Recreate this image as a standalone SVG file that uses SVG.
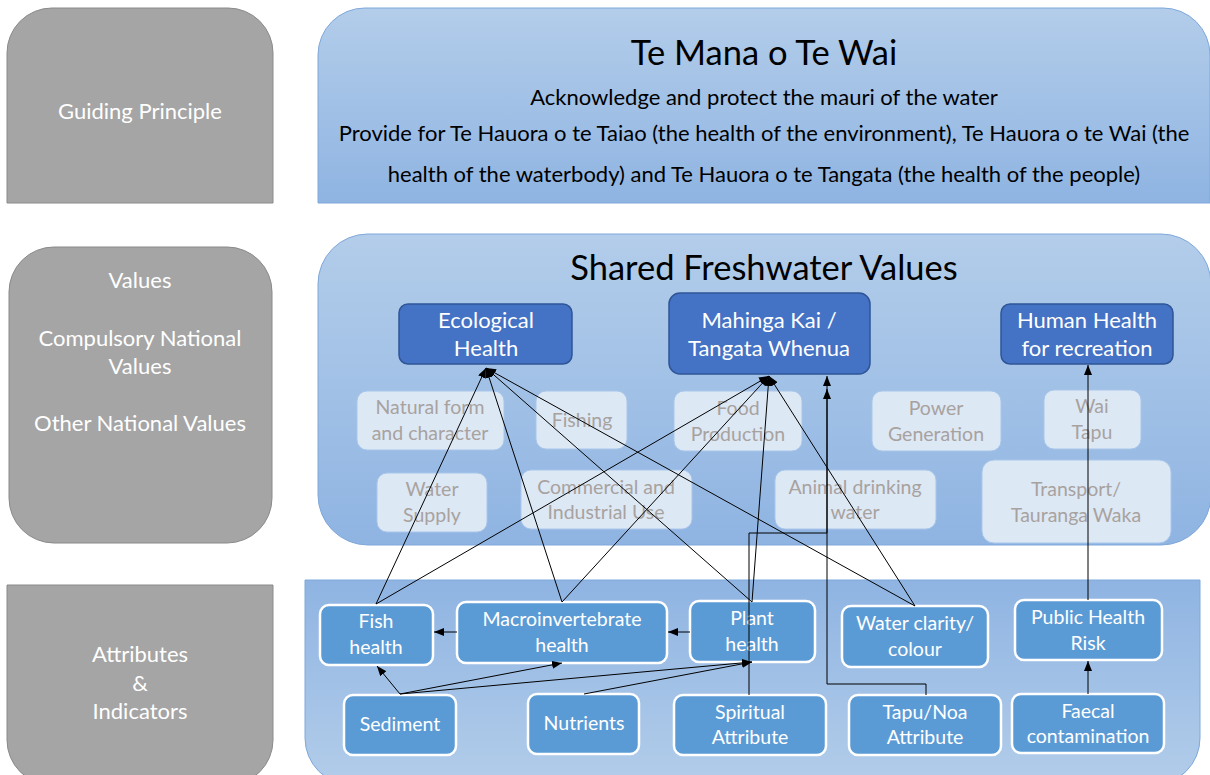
<svg xmlns="http://www.w3.org/2000/svg" width="1210" height="775" viewBox="0 0 1210 775">
<defs>
<linearGradient id="gDown" x1="0" y1="0" x2="0" y2="1">
<stop offset="0" stop-color="#b3cdea"/><stop offset="1" stop-color="#8fb4e2"/>
</linearGradient>
<linearGradient id="gUp" x1="0" y1="0" x2="0" y2="1">
<stop offset="0" stop-color="#8fb4e2"/><stop offset="1" stop-color="#b3cdea"/>
</linearGradient>
<marker id="arr" viewBox="0 0 10 8" refX="10" refY="4" markerWidth="10" markerHeight="8" markerUnits="userSpaceOnUse" orient="auto">
<path d="M0,0 L10,4 L0,8 z" fill="#000"/>
</marker>
<style>
.gray{fill:#a5a5a5;stroke:#8a8a8a;stroke-width:1}
.panel{stroke:#7fa8da;stroke-width:1}
.lbl{font-family:Lato,"Open Sans",sans-serif;font-size:22px;fill:#fff;text-anchor:middle}
.ttl{font-family:Lato,"Open Sans",sans-serif;font-size:34.5px;fill:#000;text-anchor:middle}
.body{font-family:Lato,"Open Sans",sans-serif;font-size:22px;fill:#000;text-anchor:middle}
.dark rect{fill:#4472c4;stroke:#2f5597;stroke-width:1.5}
.dark text{font-family:Lato,"Open Sans",sans-serif;font-size:22px;fill:#fff;text-anchor:middle}
.faint rect{fill:#dde8f5;stroke:#a9c6ea;stroke-width:1}
.faint text{font-family:Lato,"Open Sans",sans-serif;font-size:19.5px;fill:#a8a29f;text-anchor:middle}
.att rect{fill:#5b9bd5;stroke:#fff;stroke-width:2.5}
.att text{font-family:Lato,"Open Sans",sans-serif;font-size:19.5px;fill:#fff;text-anchor:middle}
#connectors path{fill:none;stroke:#000;stroke-width:1}
.a{marker-end:url(#arr)}
</style>
</defs>
<rect width="1210" height="775" fill="#fff"/>

<g id="row-guiding">
<path class="gray" d="M7,203 V53 A45,45 0 0 1 52,8 H228 A45,45 0 0 1 273,53 V203 Z"/>
<text class="lbl" x="140" y="119">Guiding Principle</text>
</g>
<g id="row-values">
<rect class="gray" x="9" y="247" width="263" height="296" rx="45"/>
<text class="lbl" x="140" y="288">Values</text>
<text class="lbl" x="140" y="346">Compulsory National</text>
<text class="lbl" x="140" y="374">Values</text>
<text class="lbl" x="140" y="431">Other National Values</text>
</g>
<g id="row-attributes">
<path class="gray" d="M7,585 H273 V740 A45,45 0 0 1 228,785 H52 A45,45 0 0 1 7,740 Z"/>
<text class="lbl" x="140" y="662">Attributes</text>
<text class="lbl" x="140" y="691">&amp;</text>
<text class="lbl" x="140" y="719">Indicators</text>
</g>

<g id="panel-te-mana">
<path class="panel" fill="url(#gDown)" d="M318,203 V55 A47,47 0 0 1 365,8 H1163 A47,47 0 0 1 1210,55 V203 Z"/>
<text class="ttl" x="764" y="65">Te Mana o Te Wai</text>
<text class="body" x="764" y="105">Acknowledge and protect the mauri of the water</text>
<text class="body" x="764" y="141">Provide for Te Hauora o te Taiao (the health of the environment), Te Hauora o te Wai (the</text>
<text class="body" x="764" y="182">health of the waterbody) and Te Hauora o te Tangata (the health of the people)</text>
</g>
<g id="panel-values">
<rect class="panel" fill="url(#gDown)" x="318" y="234" width="893" height="311" rx="50"/>
<text class="ttl" x="764" y="280">Shared Freshwater Values</text>
</g>
<g id="panel-attributes">
<path class="panel" fill="url(#gUp)" d="M305,580 H1200 V738 A47,47 0 0 1 1153,785 H352 A47,47 0 0 1 305,738 Z"/>
</g>

<g id="ecological-health" class="dark">
<rect x="399" y="304" width="173" height="60" rx="9"/>
<text x="486" y="328">Ecological</text><text x="486" y="356">Health</text>
</g>
<g id="mahinga-kai" class="dark">
<rect x="669" y="293" width="201" height="81" rx="11"/>
<text x="769" y="328">Mahinga Kai /</text><text x="769" y="356">Tangata Whenua</text>
</g>
<g id="human-health" class="dark">
<rect x="1001" y="304" width="172" height="60" rx="9"/>
<text x="1087" y="328">Human Health</text><text x="1087" y="356">for recreation</text>
</g>

<g id="natural-form" class="faint"><rect x="357" y="391" width="147" height="59" rx="10"/><text x="430" y="414">Natural form</text><text x="430" y="440">and character</text></g>
<g id="fishing" class="faint"><rect x="536" y="391" width="91" height="58" rx="10"/><text x="582" y="427">Fishing</text></g>
<g id="food-production" class="faint"><rect x="674" y="391" width="128" height="60" rx="10"/><text x="738" y="415">Food</text><text x="738" y="441">Production</text></g>
<g id="power-generation" class="faint"><rect x="872" y="391" width="129" height="60" rx="10"/><text x="936" y="415">Power</text><text x="936" y="441">Generation</text></g>
<g id="wai-tapu" class="faint"><rect x="1044" y="390" width="97" height="59" rx="10"/><text x="1092" y="413">Wai</text><text x="1092" y="439">Tapu</text></g>
<g id="water-supply" class="faint"><rect x="377" y="473" width="110" height="59" rx="10"/><text x="432" y="496">Water</text><text x="432" y="522">Supply</text></g>
<g id="commercial" class="faint"><rect x="521" y="470" width="171" height="59" rx="10"/><text x="606" y="494">Commercial and</text><text x="606" y="519">Industrial Use</text></g>
<g id="animal-drinking" class="faint"><rect x="775" y="470" width="161" height="59" rx="10"/><text x="855" y="494">Animal drinking</text><text x="855" y="519">water</text></g>
<g id="transport" class="faint"><rect x="982" y="460" width="189" height="83" rx="12"/><text x="1076" y="496">Transport/</text><text x="1076" y="522">Tauranga Waka</text></g>

<g id="fish-health" class="att"><rect x="320" y="605" width="113" height="60" rx="9"/><text x="376" y="628">Fish</text><text x="376" y="654">health</text></g>
<g id="macroinvertebrate-health" class="att"><rect x="457" y="602" width="210" height="61" rx="9"/><text x="562" y="626">Macroinvertebrate</text><text x="562" y="652">health</text></g>
<g id="plant-health" class="att"><rect x="690" y="601" width="125" height="61" rx="9"/><text x="752" y="625">Plant</text><text x="752" y="651">health</text></g>
<g id="water-clarity" class="att"><rect x="842" y="606" width="146" height="61" rx="9"/><text x="915" y="630">Water clarity/</text><text x="915" y="656">colour</text></g>
<g id="public-health-risk" class="att"><rect x="1015" y="600" width="147" height="60" rx="9"/><text x="1088" y="624">Public Health</text><text x="1088" y="650">Risk</text></g>
<g id="sediment" class="att"><rect x="344" y="695" width="112" height="60" rx="9"/><text x="400" y="731">Sediment</text></g>
<g id="nutrients" class="att"><rect x="528" y="694" width="111" height="60" rx="9"/><text x="584" y="730">Nutrients</text></g>
<g id="spiritual-attribute" class="att"><rect x="674" y="695" width="152" height="60" rx="9"/><text x="750" y="719">Spiritual</text><text x="750" y="744">Attribute</text></g>
<g id="tapu-noa-attribute" class="att"><rect x="849" y="695" width="152" height="60" rx="9"/><text x="925" y="719">Tapu/Noa</text><text x="925" y="744">Attribute</text></g>
<g id="faecal-contamination" class="att"><rect x="1012" y="694" width="152" height="59" rx="9"/><text x="1088" y="718">Faecal</text><text x="1088" y="743">contamination</text></g>

<g id="connectors">
<path class="a" d="M376,604 L486,368"/>
<path class="a" d="M562,602 L486,368"/>
<path class="a" d="M752,602 L486,368"/>
<path class="a" d="M915,606 L486,368"/>
<path class="a" d="M376,604 L769,376"/>
<path class="a" d="M562,602 L769,376"/>
<path class="a" d="M752,602 L769,376"/>
<path class="a" d="M915,606 L769,376"/>
<path class="a" d="M926,695 V684 H827 V376"/>
<path class="a" d="M749,695 V533 H827 V389"/>
<path class="a" d="M1088,600 V365"/>
<path class="a" d="M1088,694 V661"/>
<path class="a" d="M457,632 H434"/>
<path class="a" d="M690,632 H668"/>
<path class="a" d="M400,694 L377,666"/>
<path class="a" d="M400,694 L562,663"/>
<path class="a" d="M400,694 L752,662"/>
<path class="a" d="M584,694 L752,662"/>
</g>
</svg>
